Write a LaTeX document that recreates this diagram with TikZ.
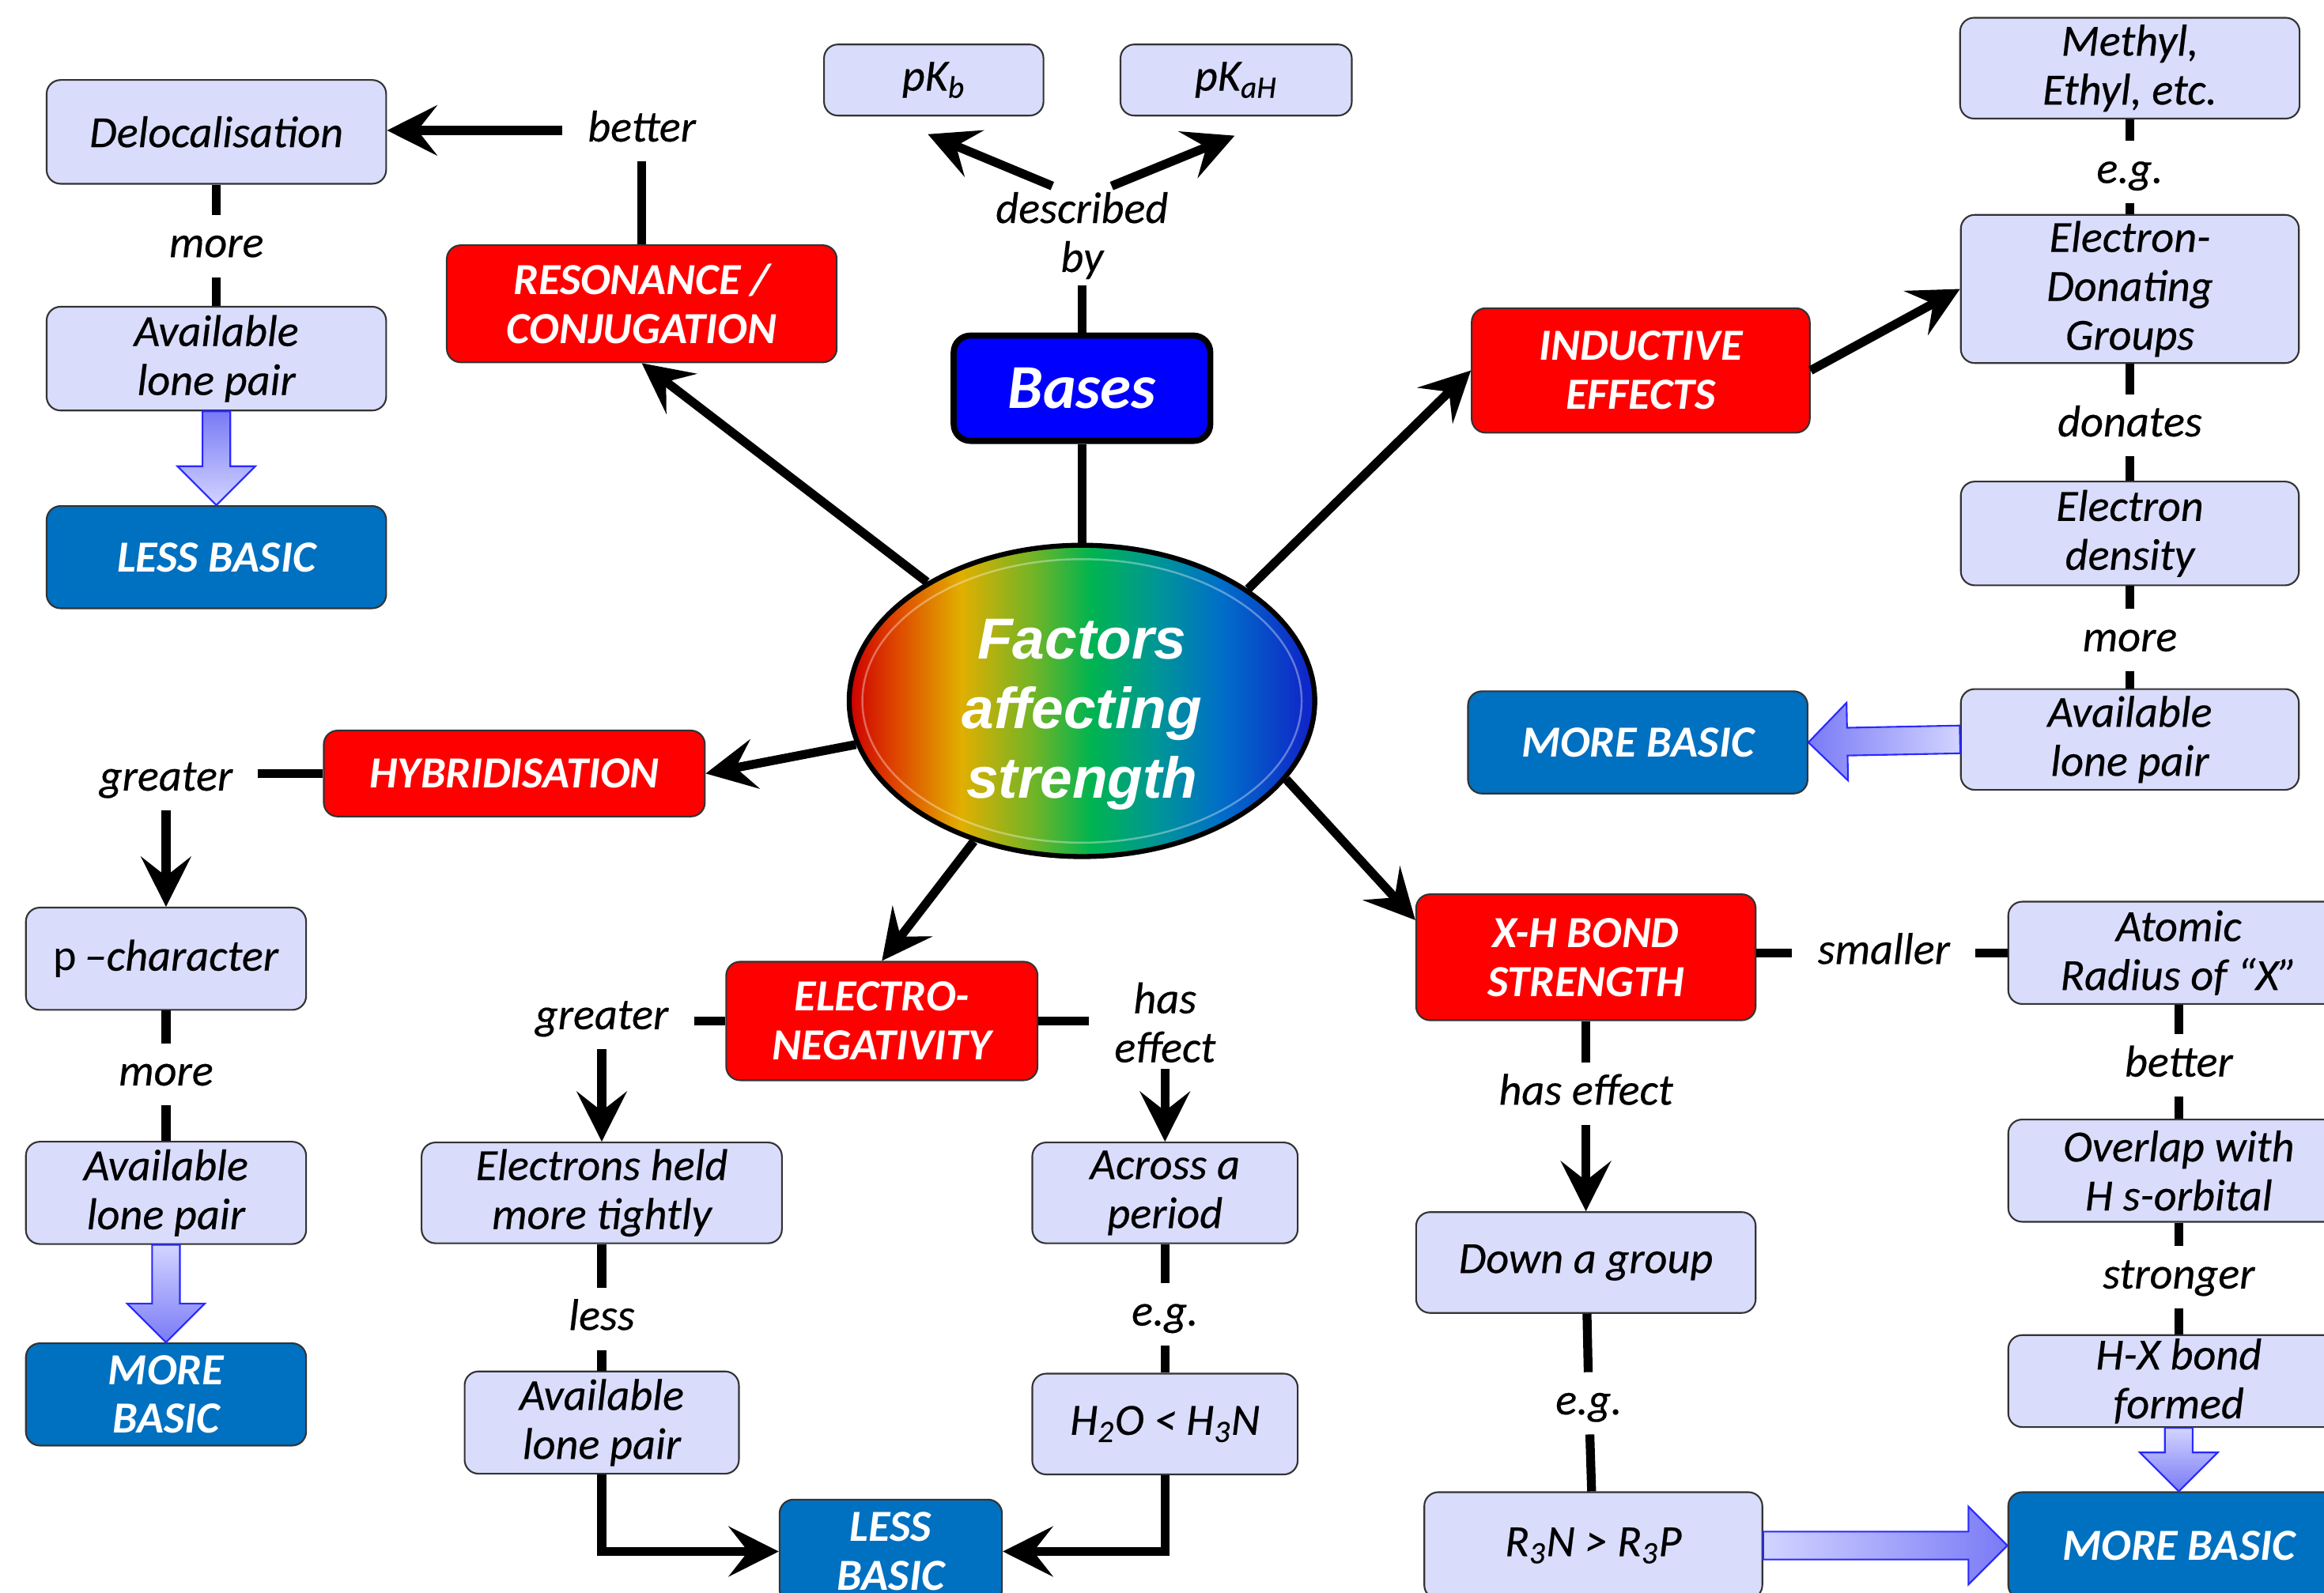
\documentclass[tikz,border=0pt]{standalone}
\usepackage{fontspec}
\setmainfont{Carlito}[ItalicFeatures={FakeBold=0.35}]
\newfontfamily\factfont{Liberation Sans}
\usetikzlibrary{shapes.geometric,arrows.meta,calc}

\definecolor{lav}{RGB}{217,220,251}
\definecolor{boxblue}{RGB}{0,112,192}
\definecolor{fatlight}{RGB}{210,212,255}
\definecolor{fatdark}{RGB}{122,122,246}
\definecolor{fatedge}{RGB}{40,40,255}
\definecolor{rb1}{RGB}{205,0,0}
\definecolor{rb2}{RGB}{222,70,0}
\definecolor{rb3}{RGB}{225,175,0}
\definecolor{rb4}{RGB}{110,180,40}
\definecolor{rb5}{RGB}{0,180,80}
\definecolor{rb6}{RGB}{0,150,150}
\definecolor{rb7}{RGB}{0,110,200}
\definecolor{rb8}{RGB}{15,40,200}

\pgfdeclarehorizontalshading{rainbow}{100bp}{color(0bp)=(rb1); color(25bp)=(rb1); color(30bp)=(rb2);
  color(37bp)=(rb3); color(45bp)=(rb4); color(51bp)=(rb5); color(58bp)=(rb6); color(65bp)=(rb7);
  color(74bp)=(rb8); color(100bp)=(rb8)}

\newcommand{\dpx}{0.53332pt}
\newcommand{\boxfont}{\fontsize{16}{17.6}\selectfont\itshape}

% wide shaded arrow from #2 to #3
\newcommand{\fatarrow}[3][]{%
  \coordinate (fahead) at ($(#3)!14pt!(#2)$);
  \shadedraw[fat,#1] ($(#2)!5pt!90:(#3)$) -- ($(fahead)!5pt!90:(#3)$) -- ($(fahead)!14pt!90:(#3)$)
    -- (#3) -- ($(fahead)!14pt!-90:(#3)$) -- ($(fahead)!5pt!-90:(#3)$) -- ($(#2)!5pt!-90:(#3)$) -- cycle;}

\begin{document}
\begin{tikzpicture}[x=0.018744cm, y=-0.018744cm,
    dims/.style 2 args={minimum width=#1*\dpx, minimum height=#2*\dpx},
    box/.style={draw=black!80, line width=0.6pt, rounded corners=5pt, fill=lav, align=center,
      inner sep=1pt, font=\boxfont},
    redbox/.style={box, fill=red, text=white, font=\boxfont\bfseries},
    bluebox/.style={box, fill=boxblue, text=white, font=\boxfont\bfseries},
    basebox/.style={box, draw=black, line width=2.2pt, rounded corners=6pt, fill=blue, text=white,
      font=\fontsize{22.5}{26}\selectfont\bfseries\itshape},
    factor/.style={ellipse, draw=black, line width=1.8pt, shade, shading=rainbow, text=white,
      align=center, inner sep=0pt, dims={314}{210},
      font=\factfont\fontsize{20.8}{25}\selectfont\bfseries\itshape},
    lbl/.style={font=\boxfont, inner xsep=9pt, inner ysep=4pt, text height=11pt, text depth=3pt},
    lbltwo/.style={font=\boxfont, align=center, inner xsep=9pt, inner ysep=2pt},
    link/.style={line width=3.2pt},
    arr/.style={link, -{Stealth[length=18pt, width=18pt, inset=7pt]}},
    fat/.style={draw=fatedge, line width=0.6pt}]
  \clip (0,0) rectangle (1568,1075);

  % resonance
  \node[box, dims={229}{70}] (deloc) at (146,89) {Delocalisation};
  \node[box, dims={229}{70}] (avl1) at (146,242) {Available\\lone pair};
  \node[bluebox, dims={229}{69}] (lb1) at (146,376) {LESS BASIC};
  \node[redbox, dims={263}{79}] (res) at (433,205) {RESONANCE /\\CONJUGATION};
  \node[lbl] (better1) at (433,88) {better};
  \node[lbl] (more1) at (146,166) {more};

  % centre
  \node[box, dims={148}{48}] (pkb) at (630,54) {pK\textsubscript{b}};
  \node[box, dims={156}{48}] (pkah) at (834,54) {pK\textsubscript{aH}};
  \node[lbltwo] (desc) at (730,159) {described\\by};
  \node[basebox, dims={173}{71}] (bases) at (730,262) {Bases};
  \node[factor] (fac) at (730,473) {\rule{0pt}{24pt}Factors\\affecting\\strength};
  \draw[white, opacity=0.35, line width=0.7pt] (fac.center) ellipse [x radius=79pt, y radius=51pt];

  % inductive
  \node[redbox, dims={228}{84}] (ind) at (1107,250) {INDUCTIVE\\EFFECTS};
  \node[box, dims={229}{68}] (meth) at (1437,46) {Methyl,\\Ethyl, etc.};
  \node[box, dims={228}{100}] (edg) at (1437,195) {Electron-\\Donating\\Groups};
  \node[box, dims={228}{70}] (dens) at (1437,360) {Electron\\density};
  \node[box, dims={228}{68}] (avl4) at (1437,499) {Available\\lone pair};
  \node[bluebox, dims={229}{69}] (mb1) at (1105,501) {MORE BASIC};
  \node[lbl] (eg2) at (1437,116) {e.g.};
  \node[lbl] (donates) at (1437,287) {donates};
  \node[lbl] (more3) at (1437,432) {more};

  % hybridisation
  \node[redbox, dims={257}{58}] (hyb) at (347,522) {HYBRIDISATION};
  \node[box, dims={189}{69}] (pchar) at (112,647) {\textup{p}\,–character};
  \node[box, dims={189}{69}] (avl2) at (112,805) {Available\\lone pair};
  \node[bluebox, dims={189}{69}] (mb2) at (112,941) {MORE\\BASIC};
  \node[lbl] (grt1) at (112,526) {greater};
  \node[lbl] (more2) at (112,725) {more};

  % electronegativity
  \node[redbox, dims={210}{80}] (en) at (595,689) {ELECTRO-\\NEGATIVITY};
  \node[box, dims={243}{68}] (held) at (406,805) {Electrons held\\more tightly};
  \node[box, dims={185}{69}] (avl3) at (406,960) {Available\\lone pair};
  \node[bluebox, dims={150}{70}] (lb2) at (601,1047) {LESS\\BASIC};
  \node[box, dims={179}{68}] (across) at (786,805) {Across a\\period};
  \node[box, dims={179}{68}] (h2o) at (786,961) {H\textsubscript{2}O < H\textsubscript{3}N};
  \node[lbl] (grt2) at (406,687) {greater};
  \node[lbltwo] (haseff1) at (786,690) {has\\effect};
  \node[lbl] (less) at (406,890) {less};
  \node[lbl] (eg1) at (786,887) {e.g.};

  % X-H bond
  \node[redbox, dims={229}{85}] (xh) at (1070,646) {X-H BOND\\STRENGTH};
  \node[box, dims={229}{68}] (down) at (1070,852) {Down a group};
  \node[box, dims={228}{72}] (r3n) at (1075,1043) {R\textsubscript{3}N > R\textsubscript{3}P};
  \node[box, dims={230}{69}] (atomic) at (1470,643) {Atomic\\Radius of “X”};
  \node[box, dims={230}{69}] (overlap) at (1470,790) {Overlap with\\H s-orbital};
  \node[box, dims={230}{62}] (hxb) at (1470,932) {H-X bond\\formed};
  \node[bluebox, dims={230}{72}] (mb4) at (1470,1043) {MORE BASIC};
  \node[lbl] (smaller) at (1271,643) {smaller};
  \node[lbl] (haseff2) at (1070,738) {has effect};
  \node[lbl] (eg3) at (1072,947) {e.g.};
  \node[lbl] (better2) at (1470,719) {better};
  \node[lbl] (stronger) at (1470,862) {stronger};

  % connectors
  \draw[arr] (fac) -- (res.south);
  \draw[link] (res) -- (better1);
  \draw[arr] (better1.west) -- (better1.west -| deloc.east);
  \draw[link] (deloc) -- (more1);
  \draw[link] (more1) -- (avl1);
  \fatarrow[top color=fatdark, bottom color=fatlight]{avl1.south}{lb1.north}

  \draw[link] (fac) -- (bases);
  \draw[link] (bases) -- (desc);
  \draw[arr] ($(desc.north)+(-20,0)$) -- ($(pkb.south)+(-4,12)$);
  \draw[arr] ($(desc.north)+(20,0)$) -- ($(pkah.south)+(-1,13)$);

  \draw[arr] (fac.34) -- (ind.west);
  \draw[arr] (ind.east) -- (edg.west);
  \draw[link] (meth) -- (eg2);
  \draw[link] (eg2) -- (edg);
  \draw[link] (edg) -- (donates);
  \draw[link] (donates) -- (dens);
  \draw[link] (dens) -- (more3);
  \draw[link] (more3) -- (avl4);
  \fatarrow[left color=fatdark, right color=fatlight]{avl4.west}{mb1.east}

  \draw[arr] (fac) -- (hyb.east);
  \draw[link] (hyb.west) -- (hyb.west -| grt1.east);
  \draw[arr] (grt1) -- (pchar);
  \draw[link] (pchar) -- (more2);
  \draw[link] (more2) -- (avl2);
  \fatarrow[top color=fatlight, bottom color=fatdark]{avl2.south}{mb2.north}

  \draw[arr] (fac) -- (en.north);
  \draw[link] (en.west) -- (en.west -| grt2.east);
  \draw[arr] (grt2) -- (held);
  \draw[link] (en.east) -- (en.east -| haseff1.west);
  \draw[arr] (haseff1) -- (across);
  \draw[link] (held) -- (less);
  \draw[link] (less) -- (avl3);
  \draw[link] (across) -- (eg1);
  \draw[link] (eg1) -- (h2o);
  \draw[arr] (avl3.south) |- (lb2.west);
  \draw[arr] (h2o.south) |- (lb2.east);

  \draw[arr] (fac.-21) -- ($(xh.north west)+(0,18)$);
  \draw[link] (xh.east |- smaller.west) -- (smaller.west);
  \draw[link] (smaller.east) -- (smaller.east -| atomic.west);
  \draw[link] (xh) -- (haseff2);
  \draw[arr] (haseff2) -- (down);
  \draw[link] (down) -- (eg3);
  \draw[link] (eg3) -- (r3n);
  \fatarrow[left color=fatlight, right color=fatdark]{r3n.east}{mb4.west}
  \draw[link] (atomic) -- (better2);
  \draw[link] (better2) -- (overlap);
  \draw[link] (overlap) -- (stronger);
  \draw[link] (stronger) -- (hxb);
  \fatarrow[top color=fatlight, bottom color=fatdark]{hxb.south}{mb4.north}
\end{tikzpicture}
\end{document}
